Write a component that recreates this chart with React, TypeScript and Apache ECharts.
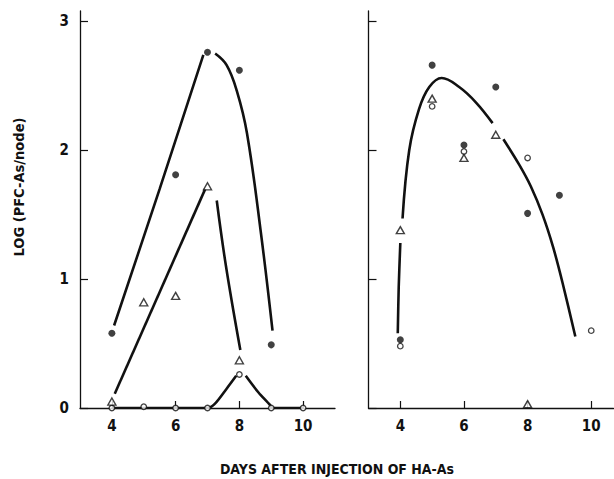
import React, { useEffect, useRef } from "react";
import * as echarts from "echarts";

// ---- tick labels ----
const xTickValues = [4, 6, 8, 10];
const yTickValues = [0, 1, 2, 3];

// ---- left panel: observed values ----
const leftFilled = [[4, 0.58], [6, 1.81], [7, 2.76], [8, 2.62], [9, 0.49]];
const leftTriangle = [[4, 0.05], [5, 0.82], [6, 0.87], [7, 1.72], [8, 0.37]];
const leftOpen = [[4, 0], [5, 0.01], [6, 0], [7, 0], [8, 0.26], [9, 0], [10, 0]];

// ---- left panel: hand-drawn curves ----
const leftFilledCurveA = [[4.07, 0.64], [5.5, 1.7], [6.87, 2.74]];
const leftFilledCurveB = [[7.24, 2.75], [7.6, 2.66], [7.92, 2.46], [8.24, 2.13], [8.68, 1.35], [9.04, 0.6]];
const leftTriangleCurveA = [[4.09, 0.11], [6.93, 1.7]];
const leftTriangleCurveB = [[7.29, 1.61], [7.58, 1.1], [8.03, 0.45]];
const leftOpenCurveA = [[4, 0], [7, 0], [7.22, 0.03], [7.6, 0.15], [7.9, 0.25]];
const leftOpenCurveB = [[8.2, 0.25], [8.6, 0.12], [8.97, 0.02], [9, 0], [10, 0]];

// ---- right panel: observed values ----
const rightFilled = [[4, 0.53], [5, 2.66], [6, 2.04], [7, 2.49], [8, 1.51], [9, 1.65]];
const rightTriangle = [[4, 1.38], [5, 2.4], [6, 1.94], [7, 2.12], [8, 0.03]];
const rightOpen = [[4, 0.48], [5, 2.34], [6, 1.99], [8, 1.94], [10, 0.6]];

// ---- right panel: hand-drawn curve ----
const rightCurveA = [[3.92, 0.58], [3.95, 0.94], [4.0, 1.28]];
const rightCurveB = [
  [4.07, 1.47], [4.28, 2.0], [4.59, 2.32], [4.91, 2.49], [5.3, 2.56],
  [5.85, 2.49], [6.38, 2.37], [6.9, 2.21],
];
const rightCurveC = [
  [7.24, 2.085], [7.74, 1.886], [8.1, 1.72], [8.47, 1.5], [8.8, 1.25], [9.1, 0.97], [9.5, 0.555],
];

const xTitle = "DAYS AFTER INJECTION OF HA-As";
const yTitle = "LOG (PFC-As/node)";

const FONT = '"Liberation Sans Narrow", "DejaVu Sans Condensed", "Roboto", sans-serif';

export default function App() {
  const ref = useRef<HTMLDivElement>(null);

  useEffect(() => {
    if (!ref.current) return;
    const chart = echarts.init(ref.current, null, { renderer: "svg" });

    const axisLine = { show: true, onZero: false, lineStyle: { color: "#111", width: 1.3 } };

    const xAxisBase = (gridIndex: number, max: number) => ({
      type: "value",
      gridIndex,
      min: 3,
      max,
      splitLine: { show: false },
      axisLine,
      axisTick: {
        show: true,
        inside: true,
        length: 7,
        customValues: xTickValues,
        lineStyle: { color: "#111", width: 1.2 },
      },
      axisLabel: {
        show: true,
        customValues: xTickValues,
        margin: 10,
        color: "#111",
        fontFamily: FONT,
        fontWeight: "bold",
        fontSize: 15,
      },
    });

    const yAxisBase = (gridIndex: number, showLabels: boolean) => ({
      type: "value",
      gridIndex,
      min: 0,
      max: 3.08,
      splitLine: { show: false },
      axisLine,
      axisTick: {
        show: true,
        inside: true,
        length: 8,
        customValues: yTickValues,
        lineStyle: { color: "#111", width: 1.2 },
      },
      axisLabel: {
        show: showLabels,
        customValues: yTickValues,
        margin: 11,
        color: "#111",
        fontFamily: FONT,
        fontWeight: "bold",
        fontSize: 15,
      },
    });

    const curve = (data: number[][], xi: number, smooth: number | boolean = 0.35) => ({
      type: "line",
      xAxisIndex: xi,
      yAxisIndex: xi,
      data,
      smooth,
      showSymbol: false,
      symbol: "none",
      lineStyle: { color: "#111", width: 2.6 },
      z: 2,
      silent: true,
    });

    const filled = (data: number[][], xi: number) => ({
      type: "scatter",
      xAxisIndex: xi,
      yAxisIndex: xi,
      data,
      symbol: "circle",
      symbolSize: 7,
      itemStyle: { color: "#111" },
      z: 5,
    });

    const openCircle = (data: number[][], xi: number) => ({
      type: "scatter",
      xAxisIndex: xi,
      yAxisIndex: xi,
      data,
      symbol: "circle",
      symbolSize: 5.5,
      itemStyle: { color: "#fff", borderColor: "#111", borderWidth: 1.3 },
      z: 5,
    });

    const triangle = (data: number[][], xi: number) => ({
      type: "scatter",
      xAxisIndex: xi,
      yAxisIndex: xi,
      data,
      symbol: "triangle",
      symbolSize: [8, 7],
      itemStyle: { color: "#fff", borderColor: "#111", borderWidth: 1.4 },
      z: 6,
    });

    chart.setOption({
      animation: false,
      backgroundColor: "#fff",
      grid: [
        { left: 80, top: 11, width: 255, height: 397 },
        { left: 368.5, top: 11, width: 245, height: 397 },
      ],
      xAxis: [xAxisBase(0, 11), xAxisBase(1, 10.7)],
      yAxis: [yAxisBase(0, true), yAxisBase(1, false)],
      series: [
        curve(leftFilledCurveA, 0, 0.2),
        curve(leftFilledCurveB, 0, 0.4),
        curve(leftTriangleCurveA, 0, false),
        curve(leftTriangleCurveB, 0, 0.4),
        curve(leftOpenCurveA, 0, 0.3),
        curve(leftOpenCurveB, 0, 0.3),
        filled(leftFilled, 0),
        openCircle(leftOpen, 0),
        triangle(leftTriangle, 0),
        curve(rightCurveA, 1, 0.3),
        curve(rightCurveB, 1, 0.4),
        curve(rightCurveC, 1, 0.3),
        filled(rightFilled, 1),
        openCircle(rightOpen, 1),
        triangle(rightTriangle, 1),
      ],
      graphic: [
        {
          type: "text",
          x: 337,
          y: 469,
          style: {
            text: xTitle,
            fill: "#111",
            font: `bold 14px ${FONT}`,
            textAlign: "center",
            textVerticalAlign: "middle",
          },
        },
        {
          type: "text",
          x: 19,
          y: 187,
          rotation: Math.PI / 2,
          style: {
            text: yTitle,
            fill: "#111",
            font: `bold 14.5px ${FONT}`,
            textAlign: "center",
            textVerticalAlign: "middle",
          },
        },
      ],
    });

    return () => chart.dispose();
  }, []);

  return (
    <div
      ref={ref}
      style={{ position: "absolute", left: 0, top: 0, width: 614, height: 479 }}
    />
  );
}
